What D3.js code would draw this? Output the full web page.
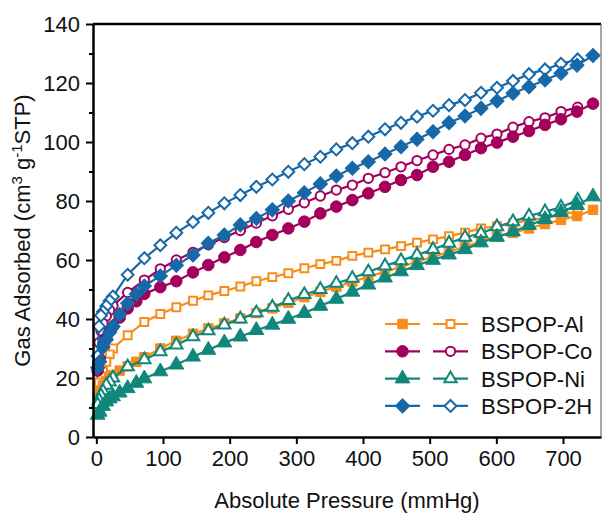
<!DOCTYPE html>
<html>
<head>
<meta charset="utf-8">
<script src="https://cdn.jsdelivr.net/npm/d3@7"></script>
<style>
    body { margin: 0; background: #fff; }
    text { font-family: "Liberation Sans", Arial, sans-serif; fill: #111; }
</style>
</head>
<body>
<div id="chart"></div>
<script>
// pressure points (mmHg), adsorption branch (filled) and desorption branch (open)
var pAds = [2, 5, 10, 15, 20, 25, 35, 47, 60, 72, 96, 120, 145, 168, 192, 216, 240, 264, 288, 312,
    336, 360, 384, 408, 433, 457, 481, 505, 529, 553, 577, 601, 625, 649, 673, 697, 721, 745];
var pDes = [722, 697, 673, 649, 625, 601, 577, 553, 529, 505, 481, 457, 433, 408, 384, 360, 336, 312,
    288, 264, 240, 216, 192, 168, 145, 120, 96, 72, 47, 25, 20, 15, 10, 7, 4, 2];

// gas adsorbed (cm3/g STP)
var alAds = [12.5, 15, 17.5, 19, 20.3, 21, 22.5, 24, 25.5, 27, 30, 32.6, 35, 36.8, 38.5, 40.2, 42, 43.6, 45.5, 47.4,
    49.2, 50.9, 52.6, 54.3, 56, 57.7, 59.4, 61, 62.8, 64.5, 66.3, 68, 69.2, 70.7, 72.2, 73.6, 74.9, 77];
var alDes = [76.5, 75.3, 74.2, 73.6, 72.4, 71.5, 70.7, 69.3, 68.1, 67, 65.9, 64.7, 63.6, 62.5, 61.4, 59.7, 58.6, 57.2,
    55.5, 54.2, 52.8, 51, 49.5, 48, 46.2, 44, 41.7, 39, 34.5, 30, 28, 25.5, 22.3, 20.5, 18.5, 15.5];

var coAds = [22.5, 26.5, 31, 33.5, 36, 37.5, 40.5, 43.6, 46, 48.5, 50.8, 52.8, 55.8, 58.3, 60.9, 63.4, 66.1, 68.5, 70.7, 73,
    75.8, 78.1, 80.3, 82.6, 84.8, 87.1, 88.8, 91.6, 93.3, 95.6, 97.9, 99.8, 101.8, 103.7, 105.8, 107.7, 110.3, 113];
var coDes = [111.8, 110.3, 108.2, 106.9, 105, 102.7, 101.3, 99, 97.5, 95.6, 93.7, 91.6, 89.6, 87.7, 85.4, 83.7, 81.7, 79.4,
    77.2, 75, 72.5, 70, 67.6, 65.2, 62.6, 60, 57, 53.2, 49, 44.5, 43, 41, 38.5, 36, 32, 25];

var niAds = [7.5, 8.5, 10.5, 12, 13, 13.7, 15, 16.5, 18.3, 19.8, 22.2, 24.5, 27.2, 29.5, 32, 34, 36.2, 38, 40, 42,
    44.4, 46.8, 49.2, 51.6, 54, 56.1, 58.2, 60, 61.8, 63.6, 65.9, 67.8, 69.6, 71.8, 73.8, 76.2, 78.6, 81.5];
var niDes = [80.3, 77.9, 76.4, 74.9, 73, 71.3, 69, 67.7, 65.7, 63.6, 61.7, 59.8, 58, 56, 53.8, 52.1, 50, 48.3,
    46.3, 44, 42.1, 40, 38, 36, 34, 31.2, 28.9, 26.2, 23.8, 20, 18.7, 17.6, 15.5, 14, 12.5, 11];

var h2Ads = [23.5, 25.5, 30.5, 33, 35.5, 37.5, 41.5, 45.3, 48.5, 51.2, 54.6, 58.2, 61.7, 65.7, 68.5, 71.9, 74.1, 77, 80, 82.8,
    85.8, 88.5, 91.1, 93.3, 95.9, 98.4, 100.9, 103.5, 106.5, 108.8, 111.4, 113.9, 116.5, 118.7, 121, 123.3, 126, 129.3];
var h2Des = [128, 126.5, 124.6, 123, 120.7, 118.4, 116.7, 114.2, 112.5, 110.6, 108.6, 106.5, 104.3, 101.8, 99.6, 97.5, 95, 92.5,
    89.9, 87.3, 84.8, 82, 79.2, 76, 72.9, 69.2, 65, 60.6, 55, 47.6, 46.2, 44.4, 42.5, 41.2, 37.5, 27.5];

var seriesNames = ["BSPOP-Al", "BSPOP-Co", "BSPOP-Ni", "BSPOP-2H"];
var xTicks = [0, 100, 200, 300, 400, 500, 600, 700];
var yTicks = [0, 20, 40, 60, 80, 100, 120, 140];

var width = 605, height = 513;
var margin = {left: 93, right: 4, top: 24, bottom: 76};

var colors = ["#F98B1B", "#A4005B", "#0F877A", "#1668A9"];
var shapes = [d3.symbolSquare, d3.symbolCircle, d3.symbolTriangle, d3.symbolSquare];
var rotate = [0, 0, 0, 45];
var filledSize = [90, 105, 95, 100];
var openSize = [62, 68, 66, 70];

var series = [
    {name: seriesNames[0], ads: alAds, des: alDes},
    {name: seriesNames[1], ads: coAds, des: coDes},
    {name: seriesNames[2], ads: niAds, des: niDes},
    {name: seriesNames[3], ads: h2Ads, des: h2Des}
];

var svg = d3.select("#chart")
    .append("svg")
    .attr("width", width)
    .attr("height", height);

var x = d3.scaleLinear()
    .domain([-5, 757])
    .range([margin.left, width - margin.right]);

var y = d3.scaleLinear()
    .domain([0, 140])
    .range([height - margin.bottom, margin.top]);

var line = d3.line()
    .x(function(d) { return x(d[0]); })
    .y(function(d) { return y(d[1]); });

function symbolPath(i, size) {
    return d3.symbol().type(shapes[i]).size(size)();
}

// draw each series: open (desorption) then filled (adsorption)
series.forEach(function(s, i) {
    var des = pDes.map(function(p, k) { return [p, s.des[k]]; });
    var ads = pAds.map(function(p, k) { return [p, s.ads[k]]; });

    [[des, true], [ads, false]].forEach(function(pair) {
        var pts = pair[0], open = pair[1];
        var g = svg.append("g");
        g.append("path")
            .datum(pts)
            .attr("d", line)
            .attr("fill", "none")
            .attr("stroke", colors[i])
            .attr("stroke-width", 2.2);
        g.selectAll("path.m")
            .data(pts)
            .enter()
            .append("path")
            .attr("class", "m")
            .attr("d", symbolPath(i, open ? openSize[i] : filledSize[i]))
            .attr("transform", function(d) {
                return "translate(" + x(d[0]) + "," + y(d[1]) + ") rotate(" + rotate[i] + ")";
            })
            .attr("fill", open ? "#fff" : colors[i])
            .attr("stroke", colors[i])
            .attr("stroke-width", open ? 2 : 1);
    });
});

// frame: top thick, right thin
svg.append("line")
    .attr("x1", margin.left).attr("x2", width - margin.right)
    .attr("y1", margin.top).attr("y2", margin.top)
    .attr("stroke", "#000").attr("stroke-width", 2.5);
svg.append("line")
    .attr("x1", width - margin.right).attr("x2", width - margin.right)
    .attr("y1", margin.top).attr("y2", height - margin.bottom)
    .attr("stroke", "#555").attr("stroke-width", 1);

// x axis
var xAxis = svg.append("g")
    .attr("transform", "translate(0," + (height - margin.bottom) + ")")
    .call(d3.axisBottom(x).tickValues(xTicks).tickSize(7).tickPadding(6).tickSizeOuter(0));
xAxis.select(".domain").attr("stroke-width", 2.5);
xAxis.selectAll(".tick line").attr("stroke-width", 2);
xAxis.selectAll("text").style("font-size", "22px").attr("font-family", null);

// y axis with minor ticks
var yMinor = svg.append("g")
    .attr("transform", "translate(" + margin.left + ",0)")
    .call(d3.axisLeft(y).tickValues(d3.range(10, 140, 20)).tickSize(4).tickFormat(""));
yMinor.select(".domain").remove();
yMinor.selectAll(".tick line").attr("stroke-width", 2);

var yAxis = svg.append("g")
    .attr("transform", "translate(" + margin.left + ",0)")
    .call(d3.axisLeft(y).tickValues(yTicks).tickSize(7).tickPadding(6).tickSizeOuter(0));
yAxis.select(".domain").attr("stroke-width", 2.5);
yAxis.selectAll(".tick line").attr("stroke-width", 2);
yAxis.selectAll("text").style("font-size", "22px").attr("font-family", null);

// axis titles
svg.append("text")
    .attr("x", (margin.left + width - margin.right) / 2)
    .attr("y", 508)
    .attr("text-anchor", "middle")
    .style("font-size", "22px")
    .text("Absolute Pressure (mmHg)");

var yTitle = svg.append("text")
    .attr("transform", "translate(30," + ((margin.top + height - margin.bottom) / 2) + ") rotate(-90)")
    .attr("text-anchor", "middle")
    .style("font-size", "22px");
yTitle.append("tspan").text("Gas Adsorbed (cm");
yTitle.append("tspan").attr("dy", -8).style("font-size", "15px").text("3");
yTitle.append("tspan").attr("dy", 8).text(" g");
yTitle.append("tspan").attr("dy", -8).style("font-size", "15px").text("-1");
yTitle.append("tspan").attr("dy", 8).text("STP)");

// legend
var legend = svg.append("g");
series.forEach(function(s, i) {
    var cy = 324 + i * 27.3;
    [[385, 420, false], [433, 468, true]].forEach(function(seg) {
        legend.append("line")
            .attr("x1", seg[0]).attr("x2", seg[1])
            .attr("y1", cy).attr("y2", cy)
            .attr("stroke", colors[i]).attr("stroke-width", 2.2);
        legend.append("path")
            .attr("d", symbolPath(i, seg[2] ? openSize[i] : filledSize[i]))
            .attr("transform", "translate(" + ((seg[0] + seg[1]) / 2) + "," + cy + ") rotate(" + rotate[i] + ")")
            .attr("fill", seg[2] ? "#fff" : colors[i])
            .attr("stroke", colors[i])
            .attr("stroke-width", seg[2] ? 2 : 1);
    });
    legend.append("text")
        .attr("x", 481)
        .attr("y", cy + 8)
        .style("font-size", "22px")
        .text(s.name);
});
</script>
</body>
</html>
